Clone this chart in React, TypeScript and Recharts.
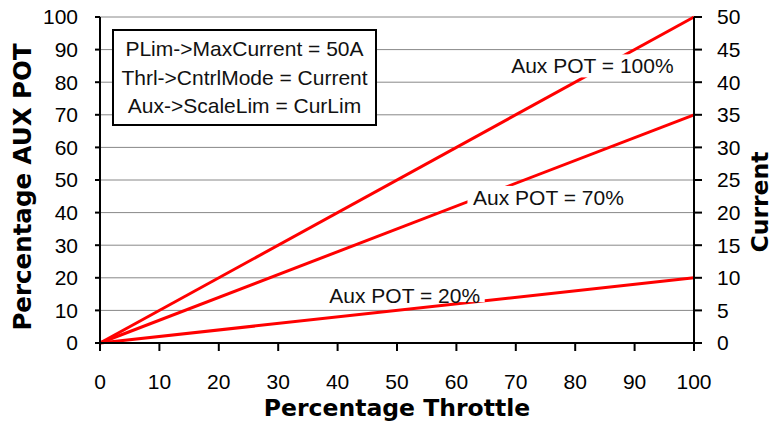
import React from 'react';
import {
  LineChart,
  Line,
  XAxis,
  YAxis,
  CartesianGrid,
  ReferenceDot,
} from 'recharts';

// throttle % on the x axis, aux pot scaled output (% of max current) on the left axis
const throttle = [0, 100];
const pot100 = [0, 100];
const pot70 = [0, 70];
const pot20 = [0, 20];
// motor current in amps at Aux POT = 100% (right axis)
const currentMax = [0, 50];

const xTicks = [0, 10, 20, 30, 40, 50, 60, 70, 80, 90, 100];
const leftTicks = [0, 10, 20, 30, 40, 50, 60, 70, 80, 90, 100];
const rightTicks = [0, 5, 10, 15, 20, 25, 30, 35, 40, 45, 50];

const settings = [
  'PLim->MaxCurrent = 50A',
  'Thrl->CntrlMode = Current',
  'Aux->ScaleLim = CurLim',
];

// line tags: text, anchor in (throttle %, aux %) coordinates
const tagText = ['Aux POT = 100%', 'Aux POT = 70%', 'Aux POT = 20%'];
const tagX = [82.9, 75.5, 51.3];
const tagY = [85.0, 44.5, 14.7];

const data = throttle.map((t, i) => ({
  t,
  p100: pot100[i],
  p70: pot70[i],
  p20: pot20[i],
  amps: currentMax[i],
}));

const TICK_FONT = { fill: '#000', fontSize: 21, fontFamily: 'Liberation Sans, Arial, sans-serif' };
const TITLE_FONT = 'DejaVu Sans, Verdana, sans-serif';

// white box behind each tag so the red line seems to pass under it
const boxes = [
  { w: 170, h: 23, dy: 0 },
  { w: 162, h: 24, dy: 0 },
  { w: 160, h: 18, dy: -2 },
];

const makeTag = (idx: number) => (props: any) => {
  const { cx, cy } = props;
  const b = boxes[idx];
  return (
    <g>
      <rect x={cx - b.w / 2} y={cy + b.dy - b.h / 2} width={b.w} height={b.h} fill="#fff" />
      <text
        x={cx}
        y={cy}
        dy="0.36em"
        textAnchor="middle"
        fontSize={21}
        fontFamily="Liberation Sans, Arial, sans-serif"
        fill="#111"
      >
        {tagText[idx]}
      </text>
    </g>
  );
};

const App: React.FC = () => {
  return (
    <div style={{ position: 'absolute', left: 0, top: 0, width: 774, height: 423, background: '#fff' }}>
      <LineChart
        width={774}
        height={423}
        data={data}
        margin={{ top: 17, right: 0, left: 0, bottom: 0 }}
      >
        <CartesianGrid vertical={false} stroke="#888" strokeWidth={1} />
        <XAxis
          dataKey="t"
          type="number"
          domain={[0, 100]}
          ticks={xTicks}
          interval={0}
          height={80}
          tick={TICK_FONT}
          tickSize={8}
          tickMargin={23}
          axisLine={{ stroke: '#000', strokeWidth: 2 }}
          tickLine={{ stroke: '#000', strokeWidth: 2 }}
        />
        <YAxis
          orientation="left"
          domain={[0, 100]}
          ticks={leftTicks}
          interval={0}
          width={100}
          tick={TICK_FONT}
          tickSize={5}
          tickMargin={17}
          axisLine={{ stroke: '#000', strokeWidth: 2 }}
          tickLine={{ stroke: '#000', strokeWidth: 2 }}
        />
        <YAxis
          yAxisId="right"
          orientation="right"
          domain={[0, 50]}
          ticks={rightTicks}
          interval={0}
          width={80}
          tick={TICK_FONT}
          tickSize={8}
          tickMargin={15}
          axisLine={{ stroke: '#000', strokeWidth: 2 }}
          tickLine={{ stroke: '#000', strokeWidth: 2 }}
        />
        {/* invisible series so the current axis gets its scale */}
        <Line yAxisId="right" dataKey="amps" stroke="none" dot={false} activeDot={false} isAnimationActive={false} />
        <Line dataKey="p100" stroke="#ff0000" strokeWidth={3} dot={false} isAnimationActive={false} />
        <Line dataKey="p70" stroke="#ff0000" strokeWidth={3} dot={false} isAnimationActive={false} />
        <Line dataKey="p20" stroke="#ff0000" strokeWidth={3} dot={false} isAnimationActive={false} />
        {tagText.map((_, i) => (
          <ReferenceDot
            key={i}
            x={tagX[i]}
            y={tagY[i]}
            r={1}
            ifOverflow="visible"
            shape={makeTag(i)}
          />
        ))}
        <text
          x={22}
          y={187}
          transform="rotate(-90 22 187)"
          textAnchor="middle"
          dy="0.36em"
          fontSize={24.5}
          fontWeight="bold"
          fontFamily={TITLE_FONT}
          fill="#000"
        >
          Percentage AUX  POT
        </text>
        <text
          x={760}
          y={202}
          transform="rotate(-90 760 202)"
          textAnchor="middle"
          dy="0.36em"
          fontSize={23.5}
          fontWeight="bold"
          fontFamily={TITLE_FONT}
          fill="#000"
        >
          Current
        </text>
        <text
          x={397}
          y={408}
          textAnchor="middle"
          dy="0.36em"
          fontSize={23.5}
          fontWeight="bold"
          fontFamily={TITLE_FONT}
          fill="#000"
        >
          Percentage Throttle
        </text>
      </LineChart>
      <div
        style={{
          position: 'absolute',
          left: 112,
          top: 29,
          width: 265,
          height: 97,
          border: '2px solid #000',
          background: '#fff',
          padding: '4px 0 0 0',
          boxSizing: 'border-box',
          fontFamily: 'Liberation Sans, Arial, sans-serif',
          fontSize: 21,
          lineHeight: '28.5px',
          textAlign: 'center',
          color: '#111',
          whiteSpace: 'pre',
        }}
      >
        {settings.map((s) => (
          <div key={s}>{s}</div>
        ))}
      </div>
    </div>
  );
};

export default App;
